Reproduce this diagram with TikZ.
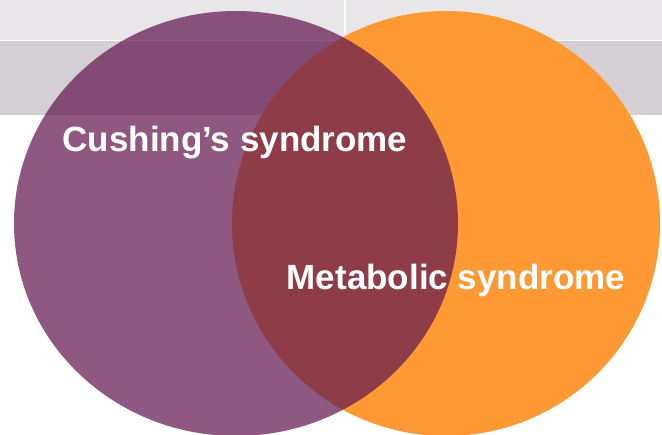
\documentclass[tikz,border=0pt]{standalone}
\usepackage{fontspec}
\setmainfont{Liberation Sans}
\definecolor{bandlight}{RGB}{232,230,232}
\definecolor{banddark}{RGB}{212,207,212}
\definecolor{cushing}{RGB}{100,26,81}
\definecolor{metab}{RGB}{254,153,51}
\begin{document}
\begin{tikzpicture}[x=1pt,y=-1pt,
  setlabel/.style={text=white,font=\bfseries\fontsize{35}{40}\selectfont,anchor=base,inner sep=0pt}]
\useasboundingbox (0,0) rectangle (662,435);
% header bands
\fill[bandlight] (0,0) rectangle (662,40);
\fill[banddark] (0,41.5) rectangle (662,115);
\draw[white,line width=1.5] (345,0) -- (345,40);
% the two sets
\fill[metab] (446,223.5) ellipse [x radius=214, y radius=212.5];
\fill[cushing,opacity=0.73] (236,223.5) ellipse [x radius=222, y radius=212.5];
% set names
\node[setlabel] (cs) at (235,152) {Cushing’s syndrome};
\node[setlabel] (ms) at (456,290) {Metabolic syndrome};
\end{tikzpicture}
\end{document}
